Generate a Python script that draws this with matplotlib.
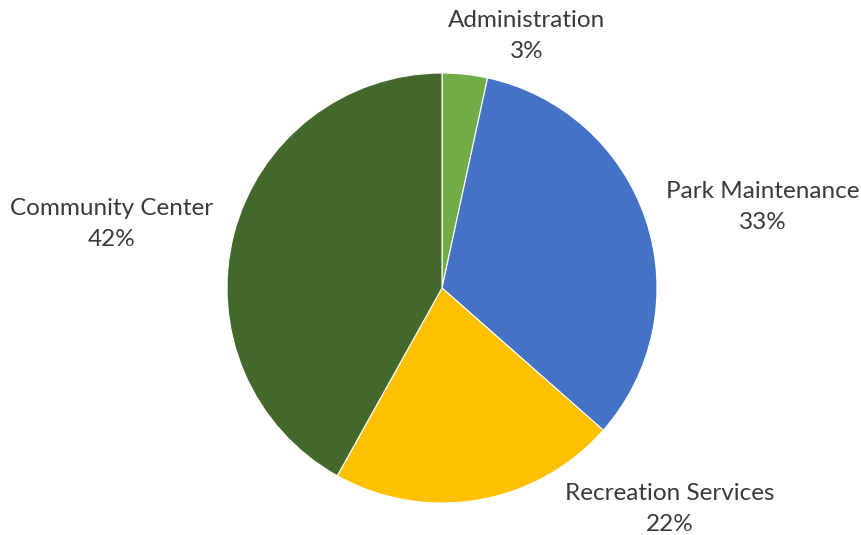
import matplotlib
matplotlib.use('Agg')
import matplotlib.pyplot as plt

categories = ["Administration", "Park Maintenance", "Recreation Services", "Community Center"]
values = [3.4, 33.1, 21.6, 41.9]
pct_labels = ["3%", "33%", "22%", "42%"]
colors = ["#70AD47", "#4472C4", "#FFC000", "#43682B"]

# label centres in pixel space (x from left, y from top)
label_pos = [(527, 36), (763, 207), (670, 509), (112, 224)]

W, H = 861, 535
fig = plt.figure(figsize=(W / 100, H / 100), dpi=100)
ax = fig.add_axes([0, 0, 1, 1])
ax.set_xlim(0, W)
ax.set_ylim(0, H)
ax.set_aspect('equal')
ax.axis('off')

ax.pie(values, colors=colors, startangle=90, counterclock=False,
       center=(442, H - 288), radius=215,
       wedgeprops=dict(edgecolor='white', linewidth=0.8))

for name, pct, (px, py) in zip(categories, pct_labels, label_pos):
    ax.text(px, H - py, name + "\n" + pct, ha='center', va='center',
            fontsize=17.5, color='#3a3a3a', family='Lato',
            linespacing=1.6)

ax.set_xlim(0, W)
ax.set_ylim(0, H)
plt.savefig("out.png", dpi=100)
